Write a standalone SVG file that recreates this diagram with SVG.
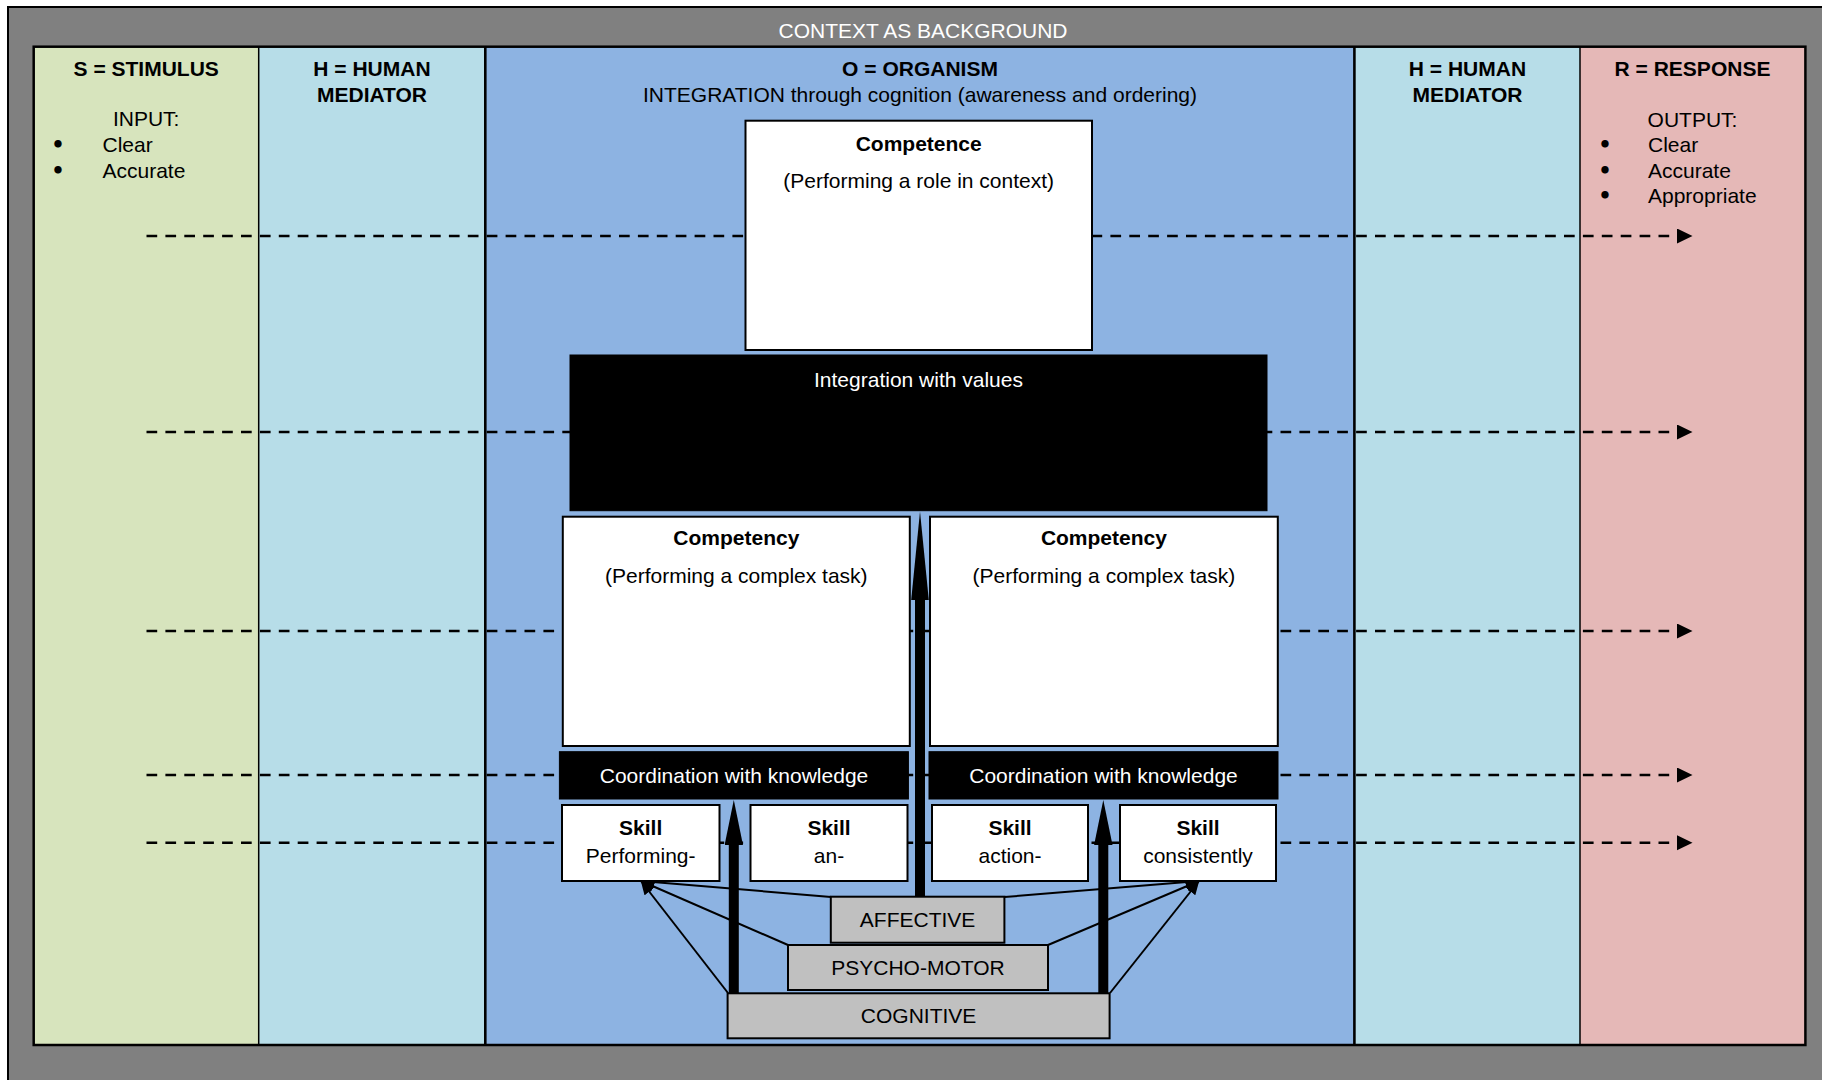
<svg xmlns="http://www.w3.org/2000/svg" width="1822" height="1080" viewBox="0 0 1822 1080">
<defs>
<style>
text{font-family:"Liberation Sans",Arial,Helvetica,sans-serif;font-size:21px;fill:#000}
.b{font-weight:bold}
.c{text-anchor:middle}
.w{fill:#fff}
.bul{font-family:"DejaVu Sans",sans-serif;font-size:21px;font-weight:bold;text-anchor:middle}
.box{fill:#fff;stroke:#000;stroke-width:2}
.blk{fill:#000;stroke:#000;stroke-width:1}
.layer{fill:#c0c0c0;stroke:#000;stroke-width:2}
.dash{stroke:#000;stroke-width:2.6;stroke-dasharray:10.7 8.2;fill:none;marker-end:url(#ah)}
.thin{stroke:#000;stroke-width:2;fill:none;marker-end:url(#sh)}
.thick{stroke:#000;stroke-width:10;fill:none}
.div{stroke:#000;fill:none}
</style>
<marker id="ah" markerUnits="userSpaceOnUse" markerWidth="16" markerHeight="16" viewBox="0 0 16 16" refX="0" refY="7.5" orient="auto"><path d="M0,0 L15.5,7.5 L0,15 z" fill="#000"/></marker>
<marker id="sh" markerUnits="userSpaceOnUse" markerWidth="15" markerHeight="12" viewBox="0 0 15 12" refX="13.5" refY="6" orient="auto"><path d="M0,0 L14,6 L0,12 z" fill="#000"/></marker>
<marker id="th" markerUnits="userSpaceOnUse" markerWidth="46" markerHeight="19" viewBox="0 0 46 19" refX="0" refY="9.2" orient="auto"><path d="M0,0 L45,9.2 L0,18.4 z" fill="#000"/></marker>
<marker id="tl" markerUnits="userSpaceOnUse" markerWidth="90" markerHeight="18" viewBox="0 0 90 18" refX="0" refY="8.8" orient="auto"><path d="M0,0 L88.5,8.8 L0,17.6 z" fill="#000"/></marker>
</defs>

<g id="background">
<rect x="8" y="7" width="1830" height="1090" fill="#808080" stroke="#000" stroke-width="2"/>
<text class="c w" x="923" y="38">CONTEXT AS BACKGROUND</text>
</g>

<g id="col-stimulus">
<rect x="33.7" y="46.7" width="225" height="998.3" fill="#d7e4bd"/>
<text class="b c" x="146.2" y="76">S = STIMULUS</text>
<text class="c" x="146.2" y="126">INPUT:</text>
<text class="bul" x="58" y="152">•</text><text x="102.5" y="152">Clear</text>
<text class="bul" x="58" y="177.5">•</text><text x="102.5" y="177.5">Accurate</text>
</g>
<g id="col-mediator-left">
<rect x="258.7" y="46.7" width="226.6" height="998.3" fill="#b7dde8"/>
<text class="b c" x="372" y="76">H = HUMAN</text>
<text class="b c" x="372" y="101.5">MEDIATOR</text>
</g>
<g id="col-organism">
<rect x="485.3" y="46.7" width="869.1" height="998.3" fill="#8db3e2"/>
<text class="b c" x="920" y="76">O = ORGANISM</text>
<text class="c" x="920" y="101.5">INTEGRATION through cognition (awareness and ordering)</text>
</g>
<g id="col-mediator-right">
<rect x="1354.4" y="46.7" width="225.6" height="998.3" fill="#b7dde8"/>
<text class="b c" x="1467.5" y="76">H = HUMAN</text>
<text class="b c" x="1467.5" y="101.5">MEDIATOR</text>
</g>
<g id="col-response">
<rect x="1580" y="46.7" width="225.4" height="998.3" fill="#e5b8b7"/>
<text class="b c" x="1692.5" y="76">R = RESPONSE</text>
<text class="c" x="1692.5" y="126.5">OUTPUT:</text>
<text class="bul" x="1605" y="152">•</text><text x="1648" y="152">Clear</text>
<text class="bul" x="1605" y="177.5">•</text><text x="1648" y="177.5">Accurate</text>
<text class="bul" x="1605" y="203">•</text><text x="1648" y="203">Appropriate</text>
</g>
<g id="column-borders">
<line class="div" x1="258.7" y1="46.7" x2="258.7" y2="1045" stroke-width="1.5"/>
<line class="div" x1="485.3" y1="46.7" x2="485.3" y2="1045" stroke-width="2.6"/>
<line class="div" x1="1354.4" y1="46.7" x2="1354.4" y2="1045" stroke-width="2.6"/>
<line class="div" x1="1580" y1="46.7" x2="1580" y2="1045" stroke-width="1.5"/>
<rect class="div" x="33.7" y="46.7" width="1771.7" height="998.3" stroke-width="2.5"/>
</g>

<g id="connectors">
<line class="dash" x1="146.5" y1="236" x2="1677" y2="236"/>
<line class="dash" x1="146.5" y1="432" x2="1677" y2="432"/>
<line class="dash" x1="146.5" y1="631" x2="1677" y2="631"/>
<line class="dash" x1="146.5" y1="775" x2="1677" y2="775"/>
<line class="dash" x1="146.5" y1="842.7" x2="1677" y2="842.7"/>
<line class="thick" x1="920" y1="897" x2="920" y2="600" marker-end="url(#tl)"/>
<line class="thick" x1="733.8" y1="993" x2="733.8" y2="845" marker-end="url(#th)"/>
<line class="thick" x1="1103.3" y1="993" x2="1103.3" y2="845" marker-end="url(#th)"/>
<line class="thin" x1="831" y1="897" x2="641" y2="881"/>
<line class="thin" x1="788" y1="945" x2="641" y2="881"/>
<line class="thin" x1="728" y1="993" x2="641" y2="881"/>
<line class="thin" x1="1004.4" y1="897" x2="1199" y2="881"/>
<line class="thin" x1="1048" y1="945" x2="1199" y2="881"/>
<line class="thin" x1="1110" y1="993" x2="1199" y2="881"/>
</g>

<g id="competence">
<rect class="box" x="745.5" y="120.7" width="346.5" height="229.3"/>
<text class="b c" x="918.7" y="150.5">Competence</text>
<text class="c" x="918.7" y="188">(Performing a role in context)</text>
</g>
<g id="integration">
<rect class="blk" x="570" y="355" width="697" height="155.7"/>
<text class="c w" x="918.5" y="387">Integration with values</text>
</g>
<g id="competency-left">
<rect class="box" x="562.8" y="516.7" width="347" height="229.3"/>
<text class="b c" x="736.3" y="545">Competency</text>
<text class="c" x="736.3" y="583">(Performing a complex task)</text>
</g>
<g id="competency-right">
<rect class="box" x="930" y="516.7" width="347.8" height="229.3"/>
<text class="b c" x="1103.9" y="545">Competency</text>
<text class="c" x="1103.9" y="583">(Performing a complex task)</text>
</g>
<g id="coordination-left">
<rect class="blk" x="559.4" y="751.7" width="349" height="47.3"/>
<text class="c w" x="734" y="782.5">Coordination with knowledge</text>
</g>
<g id="coordination-right">
<rect class="blk" x="929" y="751.7" width="349" height="47.3"/>
<text class="c w" x="1103.5" y="782.5">Coordination with knowledge</text>
</g>
<g id="skill-1">
<rect class="box" x="562" y="805" width="157.5" height="76"/>
<text class="b c" x="640.7" y="835">Skill</text>
<text class="c" x="640.7" y="862.5">Performing-</text>
</g>
<g id="skill-2">
<rect class="box" x="750.5" y="805" width="157" height="76"/>
<text class="b c" x="829" y="835">Skill</text>
<text class="c" x="829" y="862.5">an-</text>
</g>
<g id="skill-3">
<rect class="box" x="932" y="805" width="156" height="76"/>
<text class="b c" x="1010" y="835">Skill</text>
<text class="c" x="1010" y="862.5">action-</text>
</g>
<g id="skill-4">
<rect class="box" x="1120" y="805" width="156" height="76"/>
<text class="b c" x="1198" y="835">Skill</text>
<text class="c" x="1198" y="862.5">consistently</text>
</g>
<g id="affective">
<rect class="layer" x="830.8" y="896.7" width="173.6" height="46"/>
<text class="c" x="917.6" y="926.7">AFFECTIVE</text>
</g>
<g id="psycho-motor">
<rect class="layer" x="788" y="945" width="260" height="45"/>
<text class="c" x="918" y="975">PSYCHO-MOTOR</text>
</g>
<g id="cognitive">
<rect class="layer" x="727.6" y="993.3" width="382" height="45"/>
<text class="c" x="918.6" y="1022.7">COGNITIVE</text>
</g>
</svg>
